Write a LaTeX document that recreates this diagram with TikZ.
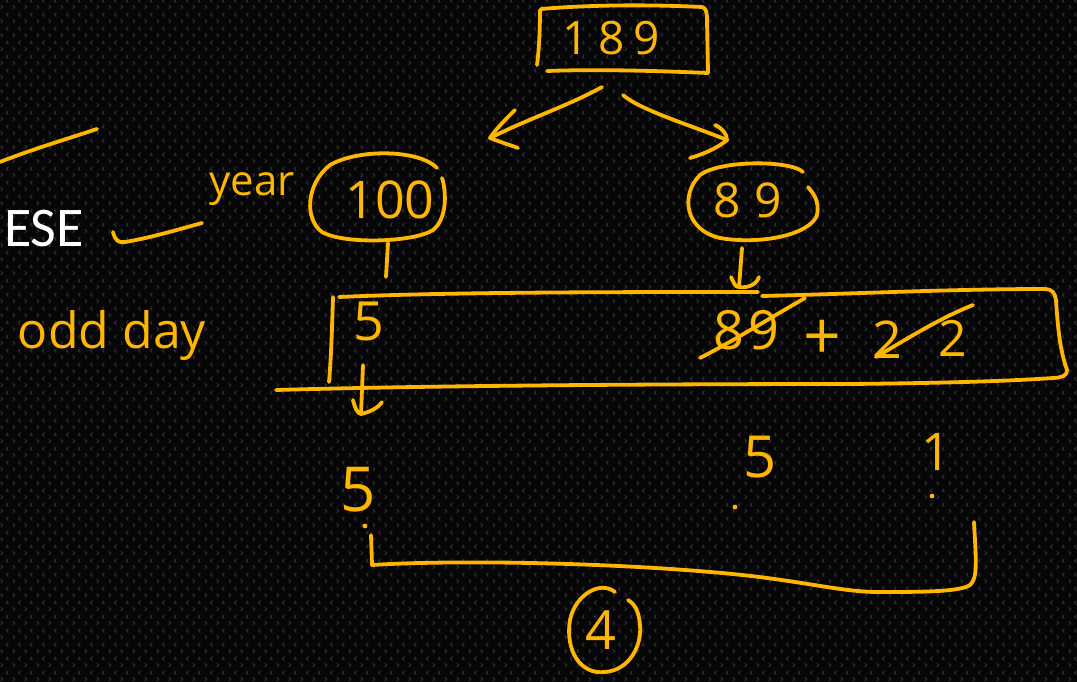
\documentclass[tikz,border=0pt]{standalone}
\usepackage{fontspec}
\newfontfamily\handfont{Open Sans}
\newfontfamily\esefont{Carlito}
\usetikzlibrary{patterns}
\definecolor{hy}{RGB}{255,182,0}
\definecolor{bgc}{RGB}{6,6,6}
\definecolor{chevc}{RGB}{44,44,44}
\newcommand{\hsz}[1]{\handfont\fontsize{#1}{#1}\selectfont}
\pgfdeclarepatternformonly{chevrons}{\pgfpointorigin}{\pgfqpoint{12pt}{14pt}}{\pgfqpoint{12pt}{14pt}}{%
  \pgfsetlinewidth{1.2pt}%
  \pgfpathmoveto{\pgfqpoint{2pt}{1pt}}\pgfpathlineto{\pgfqpoint{4pt}{3pt}}\pgfpathlineto{\pgfqpoint{2pt}{5pt}}%
  \pgfpathmoveto{\pgfqpoint{10pt}{8pt}}\pgfpathlineto{\pgfqpoint{8pt}{10pt}}\pgfpathlineto{\pgfqpoint{10pt}{12pt}}%
  \pgfusepath{stroke}}
\tikzset{
  hand/.style={draw=hy, line width=3.8pt, line cap=round, line join=round},
  lbl/.style={text=hy, inner sep=0pt},
  dotmark/.style={fill=hy, draw=none}
}
\begin{document}
\begin{tikzpicture}[x=1pt,y=-1pt]
\useasboundingbox (0,0) rectangle (1077,682);
\fill[bgc] (0,0) rectangle (1077,682);
\fill[pattern=chevrons, pattern color=chevc] (0,0) rectangle (1077,682);

% ---- top box 189
\node[lbl, font=\hsz{46}] (n189) at (611,38) {1\hspace{10pt}8\hspace{8pt}9};
\draw[hand] (540,10) .. controls (540,30) and (539,50) .. (537,65);
\draw[hand] (541,9) .. controls (600,4) and (660,5) .. (702,7) .. controls (706,8) and (707,12) .. (707,20) -- (708,73);
\draw[hand] (547,71) .. controls (600,69) and (660,71) .. (708,73);

% ---- arrows from 189
\coordinate (la0) at (602,87);
\coordinate (la1) at (490,138);
\coordinate (ra0) at (623,95);
\coordinate (ra1) at (727,140);
\draw[hand] (la0) .. controls (570,105) and (530,118) .. (la1);
\draw[hand] (515,110) .. controls (505,120) and (495,130) .. (la1) .. controls (500,142) and (510,145) .. (518,148);
\draw[hand] (ra0) .. controls (640,110) and (690,125) .. (ra1);
\draw[hand] (715,125) .. controls (722,128) and (727,134) .. (ra1) .. controls (715,150) and (700,155) .. (690,158);

% ---- ellipse 100
\node[lbl, font=\hsz{52}] (n100) at (390,200) {100};
\draw[hand] (437,168) .. controls (420,150) and (360,148) .. (330,165) .. controls (305,185) and (305,220) .. (322,232) .. controls (345,245) and (415,242) .. (433,230) .. controls (448,218) and (446,190) .. (442,178);

% ---- ellipse 89
\node[lbl, font=\hsz{48}] (n89) at (748,200) {8\hspace{14pt}9};
\draw[hand] (803,172) .. controls (790,160) and (720,160) .. (700,175) .. controls (680,195) and (685,230) .. (720,238) .. controls (760,245) and (810,235) .. (817,215) .. controls (820,200) and (812,192) .. (808,187);

% ---- left labels
\node[lbl, font=\hsz{42}, anchor=base] (year) at (252,196) {year};
\node[text=white, inner sep=0pt, font=\esefont\fontsize{56}{56}\selectfont] (ese) at (44,229) {ESE};
\node[lbl, font=\hsz{50}, anchor=base] (odd) at (112,348) {odd day};
\draw[hand] (0,162) .. controls (30,150) and (70,138) .. (97,129);
\draw[hand] (113,232) .. controls (115,240) and (118,243) .. (125,242) .. controls (150,238) and (180,229) .. (202,223);

% ---- connectors into big box
\coordinate (d100a) at (388,243);
\coordinate (d100b) at (386,277);
\draw[hand] (d100a) -- (d100b);
\coordinate (d89a) at (742,248);
\coordinate (d89b) at (739,287);
\draw[hand] (d89a) -- (d89b);
\draw[hand] (731,277) .. controls (734,283) and (735,287) .. (d89b) .. controls (746,288) and (756,286) .. (759,277);

% ---- big box
\draw[hand] (333,297) .. controls (332,330) and (331,360) .. (329,382);
\draw[hand] (339,297) .. controls (450,292) and (620,292) .. (758,292);
\draw[hand] (762,296) .. controls (850,294) and (950,289) .. (1045,289) .. controls (1052,289) and (1055,293) .. (1056,300) .. controls (1058,330) and (1060,350) .. (1067,370) .. controls (1068,376) and (1060,378) .. (1053,378);
\draw[hand] (276,390) .. controls (450,385) and (700,384) .. (850,384) .. controls (950,383) and (1010,381) .. (1053,378);

\node[lbl, font=\hsz{54}] (b5) at (369,321) {5};
\node[lbl, font=\hsz{54}] (b89) at (746,330) {8\hspace{4pt}9};
\draw[hand] (700,358) .. controls (735,340) and (770,318) .. (805,298);
\node[lbl, font=\hsz{66}] (plus) at (822,340) {+};
\node[lbl, font=\hsz{52}] (b2a) at (887,340) {2};
\node[lbl, font=\hsz{50}] (b2b) at (953,338) {2};
\draw[hand] (876,357) .. controls (905,340) and (940,318) .. (973,305);

% ---- arrow under 5
\coordinate (d5a) at (363,365);
\coordinate (d5b) at (361,414);
\draw[hand] (d5a) -- (d5b);
\draw[hand] (353,400) .. controls (355,408) and (357,413) .. (d5b) .. controls (370,412) and (378,408) .. (382,402);

% ---- results
\node[lbl, font=\hsz{62}] (r5a) at (358,490) {5};
\node[lbl, font=\hsz{58}] (r5b) at (760,457) {5};
\node[lbl, font=\hsz{52}] (r1) at (936,452) {1};
\fill[dotmark] (365,526) circle (2.4);
\fill[dotmark] (735,507) circle (2.4);
\fill[dotmark] (932,496) circle (2.4);

% ---- bracket
\draw[hand] (371,535) -- (372,565) .. controls (450,560) and (600,562) .. (722,573) .. controls (800,580) and (840,592) .. (878,592) .. controls (920,592) and (960,592) .. (970,585) .. controls (978,578) and (976,560) .. (974,522);

% ---- circled 4
\node[lbl, font=\hsz{54}] (r4) at (601,630) {4};
\draw[hand] (615,592) .. controls (600,580) and (575,595) .. (570,620) .. controls (565,650) and (580,675) .. (605,672) .. controls (630,670) and (642,645) .. (640,625) .. controls (639,612) and (635,604) .. (628,600);
\end{tikzpicture}
\end{document}
